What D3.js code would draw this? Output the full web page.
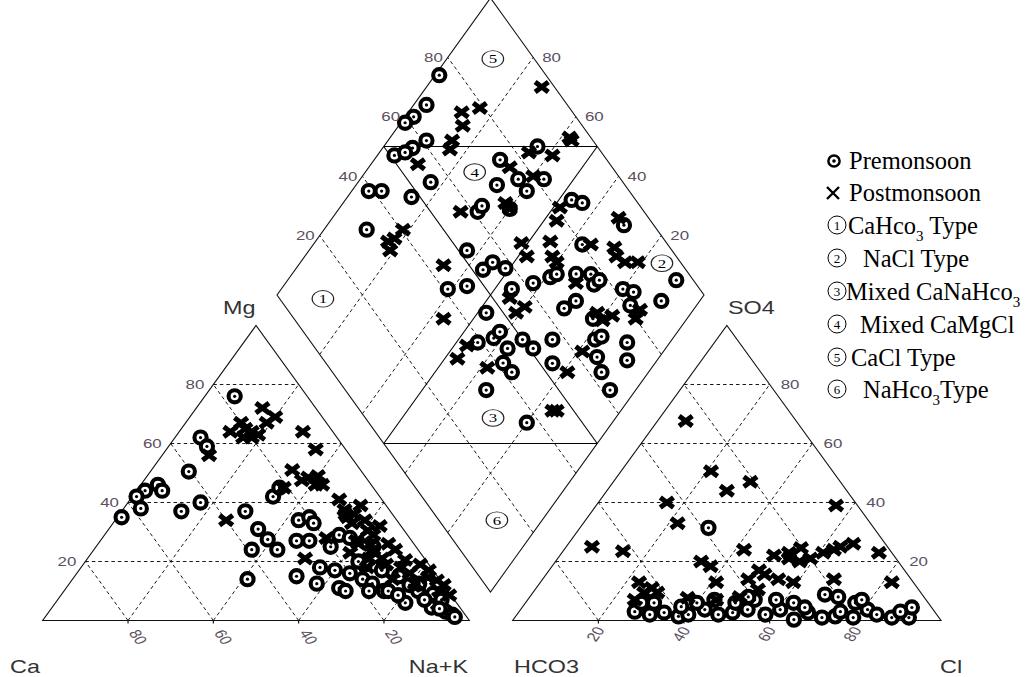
<!DOCTYPE html>
<html>
<head>
<meta charset="utf-8">
<script src="https://cdn.jsdelivr.net/npm/d3@7"></script>
<style>
body { margin: 0; background: #fff; }
.axlab { font-family: "Liberation Sans", Arial, sans-serif; font-size: 18px; fill: #333; }
.tick { font-family: "Liberation Sans", Arial, sans-serif; font-size: 13px; fill: #5b4f60; }
.leg { font-family: "Liberation Serif", "Times New Roman", serif; font-size: 24.5px; fill: #000; white-space: pre; }
.num { font-family: "Liberation Serif", "Times New Roman", serif; font-size: 13px; fill: #000; }
</style>
</head>
<body>
<div class="main"></div>
<script>
// grid / tick values
var ticks = [20, 40, 60, 80];

// cation triangle, [Mg %, Na+K %]
var preCation = [[76,7],[62,6],[59,9],[50.5,9],[46,4],[44,2],[44,6],[42,1],[38,4],[35,1],[37,14],[40,17],
  [37,29],[42,33],[45,33],[31,35],[27.5,39],[24,37],[24,43],[27,46],[34,43],[35,45],[33,47],[27,49],
  [25,55],[29,55],[14,41],[15,52],[18,56],[17,60],[16,64],[14,68],[12.5,58],[11,64],[10,66],[12.5,71],
  [10,75],[6,82],[10,83],[4.4,89],[3,93],[2,95],[19,66],[17,71],[15,76],[12.5,82],[9,87],[7,90],
  [28,58],[20,64],[25,65],[10,76],[8.6,79],[7,86],[4,91],[1.2,96],[10,71.5],[12,80]];
var postCation = [[72,15.5],[69,20],[67,13],[65,15],[64,17],[64,12],[62,16],[67,19],[63,19],[62,18],
  [56,11],[64,29],[58,35],[51,33],[48.5,38],[49,40],[46,41],[46,42.5],[45,34],[34,26],[41,49],[39,55],
  [35,54],[33,56],[30.5,61],[26,61],[24,65.5],[21,69],[26,68],[21,51],[28,52.5],[18,75],[16,78],
  [14.6,83],[13.6,85.6],[12.5,81],[10,88],[18,67],[23,60.6],[36,53],[27,60],[21,66],[14,75],[47.5,37],
  [37.5,52],[36,55],[34,58.5],[29,63],[32,63],[24,70.6],[20.5,74.7],[19,79],[17,82],[12,88],[8.6,91],
  [25.6,64],[19,71]];

// anion triangle, [Cl %, SO4 %]
var preAnion = [[30,31.4],[27,3],[31,2],[34,2.7],[38,1.4],[40,2],[43,3.7],[43.6,7],[50,2.7],[53,3.7],
  [53,7],[58,2],[60.6,3.7],[65.5,0.3],[67.6,2.7],[71.7,1],[68.5,8.8],[74.6,1.4],[79,1],[77,6],[81,3.7],
  [84,2],[88,1],[92,1],[91,4.4],[78,7],[40,6],[37,4.7],[27,6],[62.6,6],[66,4.4],[58,7],[72,8],[51,8],
  [49,6],[30,6],[47,2],[75,3],[89,3]];
var postAnion = [[6.6,67.6],[21,50.6],[32,47],[28,44],[16,40],[56,39],[22,33],[6,25],[14,23.5],[34,20],
  [37,18.4],[42,24],[50,22],[53,23],[55,24.6],[59,21],[61,23],[63,24],[64,25],[66.5,26],[74,23],[41,13],
  [49,17],[55,14],[59,13],[48,14],[68,14],[82,13],[23,13],[26,9.4],[25,7],[27,11],[37,7.7],[44,7],
  [54,21],[57,20],[29,9.5],[51,15.6],[52,10.5],[49,8]];

// diamond, [Ca+Mg %, SO4+Cl %]
var preDiamond = [[99,75],[97,67],[98,62],[99,59],[91,61],[93,56.5],[96,51],[94,54],[83,55],[85,48],
  [96,39],[93,42],[90,32],[67,61],[63,52],[61,41],[57,46],[70.5,75],[64,86],[67,70],[63,76],[59,76],
  [57,82],[60,69],[47,85],[44,87],[30.5,93],[37,80],[9,96],[9,89],[56,52.5],[55,56],[51,58],[46,56],
  [42,62],[39,67],[38,69],[33.5,73.6],[30,77],[27.5,76],[20,82],[17,84],[15.5,81],[30.5,65],[29,69],
  [22,70],[48,46],[45,39],[42,43.5],[41.6,46],[37,45],[35,50],[31,51],[28,57],[24,53],[35.6,41.5],
  [32,42],[35,33],[20,37],[18,67],[17,69],[14.6,64.5],[10,74],[7,71],[11,63],[6,62],[67,63],[27,78]];
var postDiamond = [[73,97],[84,79],[87.5,74],[85,72],[85,67],[84,65],[89,55],[58,95],[57,95],[59,88],
  [65,83],[67,76],[60,80],[71,57],[62,69],[60,69],[81.5,40.5],[82,37],[83,35],[81,34],[66,44],[57,35],
  [51.5,66],[48,65],[47,78],[45,73],[42,71],[40,71],[35,82],[29,87],[27,86],[21,90],[24,87],[33,93],
  [32,72],[45,54],[40,56],[41,53],[22,72],[18,75],[19.5,72],[12.5,82.5],[12,80],[47,36],[47,31.5],
  [38.5,37],[19,55],[19,62],[16,45],[15,46],[48.5,81]];

// water type zones, [label, Ca+Mg %, SO4+Cl %]
var zones = [['1',88.6,10.1],['2',15.2,95.5],['3',28.7,29.9],['4',74.4,67],['5',89.2,90.3],['6',10.6,13.6]];

var legendSymbols = ['pre', 'post', '1', '2', '3', '4', '5', '6'];
var legendRows = [
  [['Premonsoon']],
  [['Postmonsoon']],
  [['CaHco'], ['3', 1], [' Type']],
  [['NaCl Type']],
  [['Mixed CaNaHco'], ['3', 1]],
  [['Mixed CaMgCl']],
  [['CaCl Type']],
  [['NaHco'], ['3', 1], ['Type']]
];

var svg = d3.select('.main')
    .append('svg')
    .attr('width', 1029)
    .attr('height', 677);

// scales
var catX = d3.scaleLinear().domain([0, 100]).range([42.7, 469.3]);
var catY = d3.scaleLinear().domain([0, 100]).range([620.5, 325.5]);
var anX = d3.scaleLinear().domain([0, 100]).range([512.7, 941]);
var anY = d3.scaleLinear().domain([0, 100]).range([620.5, 325.5]);
var dmX = d3.scaleLinear().domain([-100, 100]).range([277, 704]);
var dmY = d3.scaleLinear().domain([0, 200]).range([592, -2]);

function catPos(mg, nak) { return [catX(nak + mg / 2), catY(mg)]; }
function anPos(cl, so4) { return [anX(cl + so4 / 2), anY(so4)]; }
function dmPos(u, v) { return [dmX(v - u), dmY(u + v)]; }

var line = d3.line();

function seg(g, a, b, dashed) {
    g.append('path')
        .attr('d', line([a, b]))
        .attr('fill', 'none')
        .attr('stroke', '#000')
        .attr('stroke-width', dashed ? 0.9 : 1.1)
        .attr('stroke-dasharray', dashed ? '3.5,3' : null);
}

function poly(g, pts) {
    g.append('path')
        .attr('d', line(pts) + 'Z')
        .attr('fill', 'none')
        .attr('stroke', '#111')
        .attr('stroke-width', 1.1);
}

// stretched text, the source picture is wider than tall
function stext(g, x, y, txt, cls, anchor, rot) {
    return g.append('text')
        .attr('class', cls)
        .attr('transform', 'translate(' + [x, y] + ') scale(1.3,1)' + (rot ? ' rotate(' + rot + ')' : ''))
        .attr('text-anchor', anchor || 'start')
        .text(txt);
}

var gGrid = svg.append('g');
var gMarks = svg.append('g');
var gText = svg.append('g');

// ---- cation triangle
ticks.forEach(function (t) {
    seg(gGrid, catPos(t, 0), catPos(t, 100 - t), true);
    seg(gGrid, catPos(0, t), catPos(100 - t, t), true);
    seg(gGrid, catPos(0, 100 - t), catPos(100 - t, 0), true);
    seg(gGrid, [catX(t), catY(0)], [catX(t), catY(0) + 3], false);
    var p = catPos(t, 0);
    stext(gText, p[0] - 9, p[1] + 4.5, t, 'tick', 'end');
    stext(gText, catX(100 - t) + 10, 637, t, 'tick', 'middle', 60).attr('dy', '0.35em');
});
poly(gGrid, [catPos(0, 0), catPos(0, 100), catPos(100, 0)]);

// ---- anion triangle
ticks.forEach(function (t) {
    seg(gGrid, anPos(0, t), anPos(100 - t, t), true);
    seg(gGrid, anPos(t, 0), anPos(t, 100 - t), true);
    seg(gGrid, anPos(100 - t, 0), anPos(0, 100 - t), true);
    seg(gGrid, [anX(t), anY(0)], [anX(t), anY(0) + 3], false);
    var p = anPos(100 - t, t);
    stext(gText, p[0] + 11, p[1] + 4.5, t, 'tick', 'start');
    stext(gText, anX(t) - 3, 634, t, 'tick', 'middle', -60).attr('dy', '0.35em');
});
poly(gGrid, [anPos(0, 0), anPos(100, 0), anPos(0, 100)]);

// ---- diamond
ticks.forEach(function (t) {
    seg(gGrid, dmPos(t, 0), dmPos(t, 100), true);
    seg(gGrid, dmPos(0, t), dmPos(100, t), true);
    var a = dmPos(100, t);
    stext(gText, a[0] - 5, a[1] + 4.5, t, 'tick', 'end');
    var b = dmPos(t, 100);
    stext(gText, b[0] + 9, b[1] + 4.5, t, 'tick', 'start');
});
seg(gGrid, dmPos(50, 0), dmPos(50, 100), false);
seg(gGrid, dmPos(0, 50), dmPos(100, 50), false);
seg(gGrid, dmPos(100, 50), dmPos(50, 100), false);
seg(gGrid, dmPos(50, 0), dmPos(0, 50), false);
poly(gGrid, [dmPos(100, 0), dmPos(100, 100), dmPos(0, 100), dmPos(0, 0)]);

// zone labels
var zg = gText.selectAll('.zone')
    .data(zones)
    .enter()
    .append('g')
    .attr('class', 'zone')
    .attr('transform', function (d) { return 'translate(' + dmPos(d[1], d[2]) + ') scale(1.3,1)'; });
zg.append('circle').attr('r', 8.3).attr('fill', 'none').attr('stroke', '#222').attr('stroke-width', 0.9);
zg.append('text').attr('class', 'num').attr('text-anchor', 'middle').attr('y', 4.5)
    .text(function (d) { return d[0]; });

// ---- markers
function drawPre(pts, pos) {
    var m = gMarks.append('g').selectAll('g')
        .data(pts)
        .enter()
        .append('g')
        .attr('transform', function (d) { return 'translate(' + pos(d[0], d[1]) + ')'; });
    m.append('circle')
        .attr('r', 6.1)
        .attr('fill', '#fff')
        .attr('stroke', '#000')
        .attr('stroke-width', 4.1);
    m.append('circle')
        .attr('r', 1.6)
        .attr('fill', '#000');
}

function drawPost(pts, pos) {
    gMarks.append('g').selectAll('path')
        .data(pts)
        .enter()
        .append('path')
        .attr('d', 'M-6.6,-5L6.6,5M-6.6,5L6.6,-5')
        .attr('transform', function (d) { return 'translate(' + pos(d[0], d[1]) + ')'; })
        .attr('fill', 'none')
        .attr('stroke', '#000')
        .attr('stroke-width', 5);
}

drawPre(preCation, catPos);
drawPost(postCation, catPos);
drawPre(preAnion, anPos);
drawPost(postAnion, anPos);
drawPre(preDiamond, dmPos);
drawPost(postDiamond, dmPos);

// ---- axis names
stext(gText, 10, 673, 'Ca', 'axlab', 'start');
stext(gText, 468, 673, 'Na+K', 'axlab', 'end');
stext(gText, 223, 314, 'Mg', 'axlab', 'start');
stext(gText, 514, 673, 'HCO3', 'axlab', 'start');
stext(gText, 728, 314, 'SO4', 'axlab', 'start');
stext(gText, 940, 673, 'Cl', 'axlab', 'start');

// ---- legend
var legendX = [849, 849, 848, 863, 846, 860, 851, 863];
var legendBase = [169, 201, 234, 267, 300, 333, 366, 398];
var lg = svg.append('g');

legendRows.forEach(function (row, i) {
    var t = lg.append('text').attr('class', 'leg')
        .attr('x', legendX[i]).attr('y', legendBase[i]);
    var sub = false;
    row.forEach(function (part) {
        var ts = t.append('tspan').text(part[0]);
        if (part[1]) {
            ts.attr('dy', 7).style('font-size', '15px');
            sub = true;
        } else if (sub) {
            ts.attr('dy', -7);
            sub = false;
        }
    });

    var sym = legendSymbols[i];
    var cy = legendBase[i] - 8;
    if (sym === 'pre') {
        lg.append('circle').attr('cx', 834).attr('cy', cy).attr('r', 5.6)
            .attr('fill', 'none').attr('stroke', '#000').attr('stroke-width', 2.5);
        lg.append('circle').attr('cx', 834).attr('cy', cy).attr('r', 1.8).attr('fill', '#000');
    } else if (sym === 'post') {
        lg.append('path')
            .attr('d', 'M-6,-6L6,6M-6,6L6,-6')
            .attr('transform', 'translate(' + [833, cy] + ')')
            .attr('stroke', '#000').attr('stroke-width', 2.4);
    } else {
        lg.append('circle').attr('cx', 837).attr('cy', cy - 1).attr('r', 9)
            .attr('fill', 'none').attr('stroke', '#000').attr('stroke-width', 1);
        lg.append('text').attr('class', 'num').style('font-size', '13px')
            .attr('x', 837).attr('y', cy + 3.5).attr('text-anchor', 'middle').text(sym);
    }
});
</script>
</body>
</html>
